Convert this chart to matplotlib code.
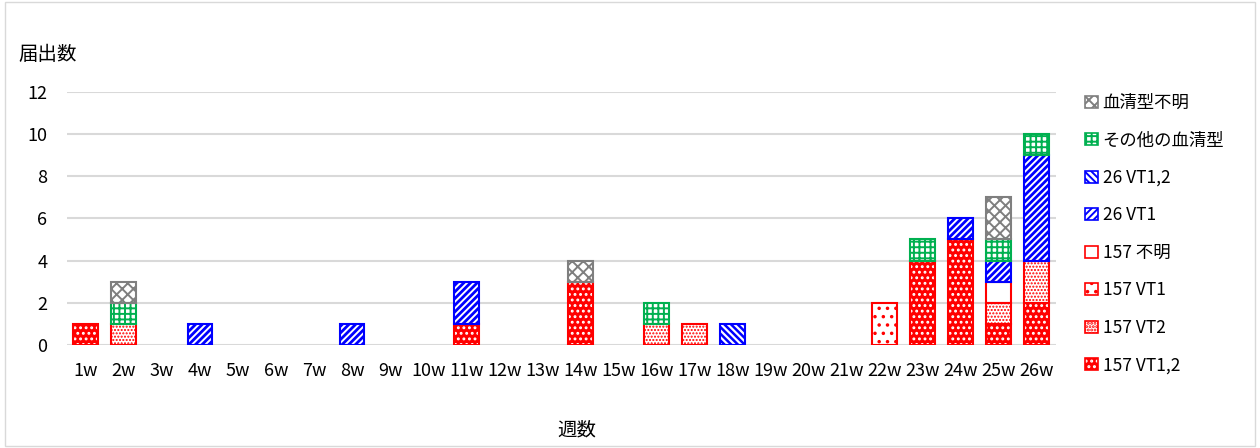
import matplotlib.pyplot as plt
from matplotlib.patches import Patch, Rectangle
import numpy as np

plt.rcParams['font.family'] = ['Noto Sans CJK JP', 'DejaVu Sans']

weeks = [f"{i}w" for i in range(1, 27)]

# counts per week, bottom to top of each stack
s157_vt12 = [1, 0, 0, 0, 0, 0, 0, 0, 0, 0, 1, 0, 0, 3, 0, 0, 0, 0, 0, 0, 0, 0, 4, 5, 1, 2]
s157_vt2 = [0, 1, 0, 0, 0, 0, 0, 0, 0, 0, 0, 0, 0, 0, 0, 1, 1, 0, 0, 0, 0, 0, 0, 0, 1, 2]
s157_vt1 = [0, 0, 0, 0, 0, 0, 0, 0, 0, 0, 0, 0, 0, 0, 0, 0, 0, 0, 0, 0, 0, 2, 0, 0, 0, 0]
s157_unk = [0, 0, 0, 0, 0, 0, 0, 0, 0, 0, 0, 0, 0, 0, 0, 0, 0, 0, 0, 0, 0, 0, 0, 0, 1, 0]
s26_vt1 = [0, 0, 0, 1, 0, 0, 0, 1, 0, 0, 2, 0, 0, 0, 0, 0, 0, 0, 0, 0, 0, 0, 0, 1, 1, 5]
s26_vt12 = [0, 0, 0, 0, 0, 0, 0, 0, 0, 0, 0, 0, 0, 0, 0, 0, 0, 1, 0, 0, 0, 0, 0, 0, 0, 0]
other = [0, 1, 0, 0, 0, 0, 0, 0, 0, 0, 0, 0, 0, 0, 0, 1, 0, 0, 0, 0, 0, 0, 1, 0, 1, 1]
unknown = [0, 1, 0, 0, 0, 0, 0, 0, 0, 0, 0, 0, 0, 1, 0, 0, 0, 0, 0, 0, 0, 0, 0, 0, 2, 0]

labels = ["157 VT1,2", "157 VT2", "157 VT1", "157 不明", "26 VT1", "26 VT1,2",
          "その他の血清型", "血清型不明"]
series = [s157_vt12, s157_vt2, s157_vt1, s157_unk, s26_vt1, s26_vt12, other, unknown]

red = "#FF0000"
blue = "#0000FF"
green = "#00B050"
gray = "#7F7F7F"
# (face, hatch, hatch colour, outline colour, hatch width)
styles = [
    (red, "...", "white", red, 1.3),
    ("white", ".....", red, red, 1.0),
    ("white", "..", red, red, 1.3),
    ("white", "", red, red, 1.0),
    ("white", "/////", blue, blue, 2.0),
    ("white", "\\\\\\\\\\", blue, blue, 1.8),
    ("white", "+++", green, green, 1.4),
    ("white", "xxx", gray, gray, 1.4),
]

fig = plt.figure(figsize=(12.6, 4.48), dpi=100)
ax = fig.add_axes([0.053, 0.23, 0.785, 0.565])

x = np.arange(len(weeks))
bottom = np.zeros(len(weeks))
handles = []
for vals, (face, hatch, hc, ec, hw) in zip(series, styles):
    plt.rcParams['hatch.linewidth'] = hw
    vals = np.array(vals, dtype=float)
    m = vals > 0
    ax.bar(x[m], vals[m], 0.65, bottom=bottom[m], color=face, hatch=hatch, edgecolor=hc,
           linewidth=0, zorder=3)
    ax.bar(x[m], vals[m], 0.65, bottom=bottom[m], fill=False, edgecolor=ec, linewidth=1.5,
           zorder=4)
    bottom += vals
    handles.append((Patch(facecolor=face, hatch=hatch, edgecolor=hc, linewidth=0),
                    Patch(fill=False, edgecolor=ec, linewidth=1.2)))

ax.set_ylim(0, 12)
ax.set_yticks(range(0, 13, 2))
ax.set_xlim(-0.5, len(weeks) - 0.5)
ax.set_xticks(x)
ax.set_xticklabels(weeks)
ax.grid(axis="y", color="#D9D9D9", linewidth=1.5, zorder=0)
ax.set_axisbelow(True)
for s in ax.spines.values():
    s.set_visible(False)
ax.tick_params(length=0, labelsize=13, colors="#000000")
ax.tick_params(axis="x", pad=12)
ax.tick_params(axis="y", pad=14)

fig.text(0.015, 0.865, "届出数", fontsize=14)
fig.text(0.458, 0.028, "週数", fontsize=14, ha="center")

ax.legend(handles[::-1], labels[::-1], loc="upper left", bbox_to_anchor=(0.849, 0.825),
          bbox_transform=fig.transFigure, frameon=False, fontsize=12.5,
          handlelength=0.7, handleheight=0.7, handletextpad=0.3, labelspacing=1.12)

fig.patches.append(Rectangle((0.004, 0.004), 0.992, 0.992, transform=fig.transFigure,
                             fill=False, edgecolor="#D9D9D9", linewidth=1))

fig.savefig("out.png", dpi=100)
